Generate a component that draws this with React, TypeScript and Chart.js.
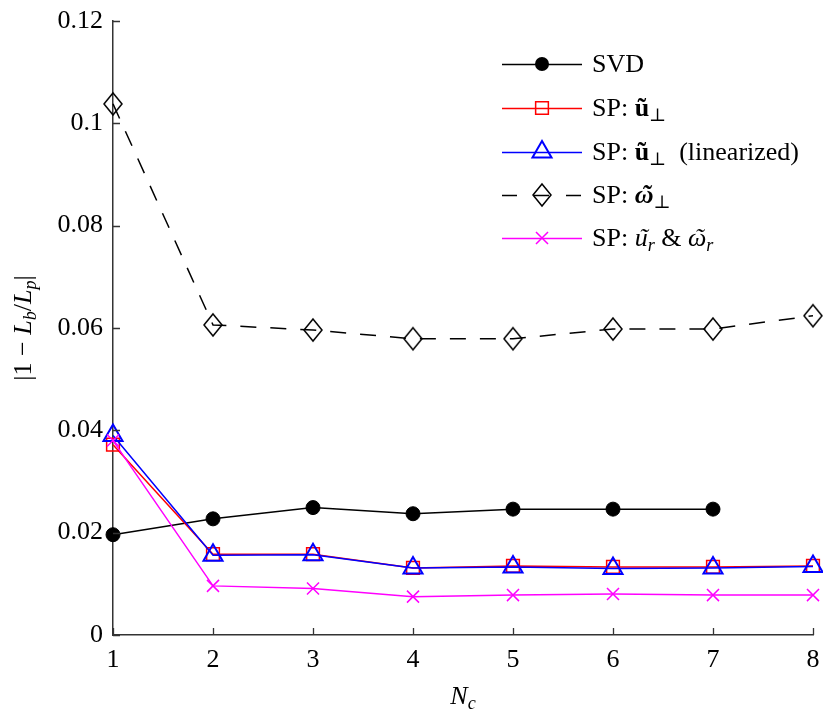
import { useEffect, useRef } from "react";
import { Chart, registerables } from "chart.js";

Chart.register(...registerables);

// Number of components N_c
const nc = [1, 2, 3, 4, 5, 6, 7, 8];
// |1 - L_b/L_p| for each method
const svd = [0.0196, 0.0227, 0.0249, 0.0237, 0.0246, 0.0246, 0.0246];
const spU = [0.0372, 0.0158, 0.0158, 0.0131, 0.0135, 0.0133, 0.0133, 0.0135];
const spULin = [0.039, 0.0156, 0.0157, 0.0131, 0.0133, 0.013, 0.0131, 0.0134];
const spOmega = [0.1038, 0.0606, 0.0596, 0.0579, 0.0579, 0.0598, 0.0598, 0.0624];
const spRadial = [0.038, 0.0096, 0.0091, 0.0075, 0.0078, 0.008, 0.0078, 0.0078];

const xTicks = [1, 2, 3, 4, 5, 6, 7, 8];
const yTicks = [0, 0.02, 0.04, 0.06, 0.08, 0.1, 0.12];

const FAMILY = "'Liberation Serif', 'DejaVu Serif', serif";
const SIZE = 26;

type Seg = { t: string; s?: "n" | "i" | "b" | "bi"; sub?: boolean; tilde?: boolean };

const legendLabels: Seg[][] = [
  [{ t: "SVD" }],
  [{ t: "SP: " }, { t: "u", s: "b", tilde: true }, { t: "\u22A5", sub: true }],
  [
    { t: "SP: " },
    { t: "u", s: "b", tilde: true },
    { t: "\u22A5", sub: true },
    { t: "  (linearized)" },
  ],
  [{ t: "SP: " }, { t: "\u03C9", s: "bi", tilde: true }, { t: "\u22A5", sub: true }],
  [
    { t: "SP: " },
    { t: "u", s: "i", tilde: true },
    { t: "r", s: "i", sub: true },
    { t: " & " },
    { t: "\u03C9", s: "i", tilde: true },
    { t: "r", s: "i", sub: true },
  ],
];

const yTitle: Seg[] = [
  { t: "|1 \u2212 " },
  { t: "L", s: "i" },
  { t: "b", s: "i", sub: true },
  { t: "/" },
  { t: "L", s: "i" },
  { t: "p", s: "i", sub: true },
  { t: "|" },
];

const xTitle: Seg[] = [{ t: "N", s: "i" }, { t: "c", s: "i", sub: true }];

function fontOf(s: Seg["s"], size: number) {
  const pre = s === "i" ? "italic " : s === "b" ? "bold " : s === "bi" ? "italic bold " : "";
  return `${pre}${size}px ${FAMILY}`;
}

function measureRich(ctx: CanvasRenderingContext2D, segs: Seg[], size: number) {
  let w = 0;
  for (const g of segs) {
    ctx.font = fontOf(g.s, g.sub ? size * 0.7 : size);
    w += ctx.measureText(g.t).width;
  }
  return w;
}

function drawRich(ctx: CanvasRenderingContext2D, segs: Seg[], x: number, y: number, size: number) {
  let cx = x;
  ctx.textAlign = "left";
  ctx.textBaseline = "alphabetic";
  for (const g of segs) {
    const sz = g.sub ? size * 0.7 : size;
    ctx.font = fontOf(g.s, sz);
    const dy = g.sub ? size * 0.2 : 0;
    ctx.fillText(g.t, cx, y + dy);
    const w = ctx.measureText(g.t).width;
    if (g.tilde) {
      const slant = g.s === "i" || g.s === "bi" ? size * 0.08 : 0;
      ctx.textAlign = "center";
      ctx.fillText("\u02DC", cx + w / 2 + slant, y + dy);
      ctx.textAlign = "left";
    }
    cx += w;
  }
}

function makeDiamond(color: string) {
  const c = document.createElement("canvas");
  c.width = 22;
  c.height = 26;
  const g = c.getContext("2d")!;
  g.strokeStyle = color;
  g.lineWidth = 1.5;
  g.beginPath();
  g.moveTo(11, 2);
  g.lineTo(20, 13);
  g.lineTo(11, 24);
  g.lineTo(2, 13);
  g.closePath();
  g.stroke();
  return c;
}

type Marker = {
  style: string;
  radius: number;
  color: string;
  fill: boolean;
  width: number;
};

function drawMarker(ctx: CanvasRenderingContext2D, m: Marker, x: number, y: number, diamond: HTMLCanvasElement) {
  ctx.save();
  ctx.setLineDash([]);
  ctx.strokeStyle = m.color;
  ctx.fillStyle = m.color;
  ctx.lineWidth = m.width;
  const r = m.radius;
  ctx.beginPath();
  if (m.style === "circle") {
    ctx.arc(x, y, r, 0, Math.PI * 2);
    ctx.fill();
  } else if (m.style === "rect") {
    const s = r * Math.SQRT1_2;
    ctx.rect(x - s, y - s, 2 * s, 2 * s);
    ctx.stroke();
  } else if (m.style === "triangle") {
    let a = 0;
    ctx.moveTo(x + Math.sin(a) * r, y - Math.cos(a) * r);
    a += (2 * Math.PI) / 3;
    ctx.lineTo(x + Math.sin(a) * r, y - Math.cos(a) * r);
    a += (2 * Math.PI) / 3;
    ctx.lineTo(x + Math.sin(a) * r, y - Math.cos(a) * r);
    ctx.closePath();
    ctx.stroke();
  } else if (m.style === "diamond") {
    ctx.drawImage(diamond, x - diamond.width / 2, y - diamond.height / 2);
  } else if (m.style === "crossRot") {
    const o = r * Math.SQRT1_2;
    ctx.moveTo(x - o, y - o);
    ctx.lineTo(x + o, y + o);
    ctx.moveTo(x - o, y + o);
    ctx.lineTo(x + o, y - o);
    ctx.stroke();
  }
  ctx.restore();
}

// scales keep a fixed footprint so the plot area lands where intended
function noScalePadding(s: any) {
  s.paddingLeft = 0;
  s.paddingRight = 0;
  s.paddingTop = 0;
  s.paddingBottom = 0;
}

export default function App() {
  const ref = useRef<HTMLCanvasElement | null>(null);

  useEffect(() => {
    const canvas = ref.current;
    if (!canvas) return;
    const diamond = makeDiamond("#000000");

    const series = [
      { label: "SVD", values: svd, color: "#000000", dash: [] as number[], m: { style: "circle", radius: 7, color: "#000000", fill: true, width: 1 } },
      { label: "SP u", values: spU, color: "#ff0000", dash: [], m: { style: "rect", radius: 9, color: "#ff0000", fill: false, width: 1.5 } },
      { label: "SP u lin", values: spULin, color: "#0000ff", dash: [], m: { style: "triangle", radius: 11, color: "#0000ff", fill: false, width: 2 } },
      { label: "SP omega", values: spOmega, color: "#000000", dash: [16, 14], m: { style: "diamond", radius: 11, color: "#000000", fill: false, width: 1.5 } },
      { label: "SP radial", values: spRadial, color: "#ff00ff", dash: [], m: { style: "crossRot", radius: 8.5, color: "#ff00ff", fill: false, width: 1.5 } },
    ];

    const overlay = {
      id: "overlay",
      afterDraw(chart: any) {
        const ctx: CanvasRenderingContext2D = chart.ctx;
        const xs = chart.scales.x;
        const ys = chart.scales.y;
        const { left, bottom } = chart.chartArea;
        ctx.save();
        // inward tick marks
        ctx.strokeStyle = "#333333";
        ctx.lineWidth = 1.3;
        ctx.beginPath();
        for (const v of xTicks) {
          const px = Math.round(xs.getPixelForValue(v)) + 0.5;
          ctx.moveTo(px, bottom);
          ctx.lineTo(px, bottom - 7);
        }
        for (const v of yTicks) {
          const py = Math.round(ys.getPixelForValue(v)) + 0.5;
          ctx.moveTo(left, py);
          ctx.lineTo(left + 7, py);
        }
        ctx.stroke();

        ctx.fillStyle = "#000000";
        // axis titles
        const wx = measureRich(ctx, xTitle, SIZE);
        drawRich(ctx, xTitle, (xs.left + xs.right) / 2 - wx / 2, 704, SIZE);
        const wy = measureRich(ctx, yTitle, SIZE);
        ctx.save();
        ctx.translate(31, (ys.top + ys.bottom) / 2);
        ctx.rotate(-Math.PI / 2);
        drawRich(ctx, yTitle, -wy / 2, 0, SIZE);
        ctx.restore();

        // legend
        const rows = [64, 108, 152, 195, 238];
        series.forEach((s, i) => {
          const y = rows[i];
          ctx.save();
          ctx.strokeStyle = s.color;
          ctx.lineWidth = 1.5;
          ctx.setLineDash(s.dash.length ? [15, 17] : []);
          ctx.beginPath();
          ctx.moveTo(502, y + 0.5);
          ctx.lineTo(582, y + 0.5);
          ctx.stroke();
          ctx.restore();
          drawMarker(ctx, s.m as Marker, 542, y, diamond);
          ctx.fillStyle = "#000000";
          drawRich(ctx, legendLabels[i], 592, y + 8, SIZE);
        });
        ctx.restore();
      },
    };

    const chart = new Chart(canvas, {
      type: "line",
      data: {
        datasets: series.map((s, i) => ({
          label: s.label,
          data: s.values.map((y, k) => ({ x: nc[k], y })),
          borderColor: s.color,
          backgroundColor: s.color,
          borderWidth: 1.5,
          borderDash: s.dash,
          pointStyle: s.m.style === "diamond" ? diamond : s.m.style,
          pointRadius: s.m.radius,
          pointHoverRadius: s.m.radius,
          pointBorderWidth: s.m.width,
          pointBorderColor: s.color,
          pointBackgroundColor: s.m.fill ? s.color : "rgba(0,0,0,0)",
          tension: 0,
          fill: false,
          clip: false,
          order: series.length - i,
        })) as any,
      },
      options: {
        animation: false,
        responsive: false,
        events: [],
        layout: { autoPadding: false, padding: { top: 21, right: 10, left: 0, bottom: 0 } },
        plugins: { legend: { display: false }, tooltip: { enabled: false } },
        scales: {
          x: {
            type: "linear",
            min: 1,
            max: 8,
            afterBuildTicks: (s: any) => {
              s.ticks = xTicks.map((v) => ({ value: v }));
            },
            afterFit: (s: any) => {
              s.height = 80;
              noScalePadding(s);
            },
            grid: { display: false, drawTicks: false },
            border: { display: true, color: "#333333", width: 1.5 },
            ticks: {
              color: "#000000",
              padding: 10,
              maxRotation: 0,
              font: { family: FAMILY, size: SIZE },
              callback: (v: any) => String(v),
            },
          },
          y: {
            type: "linear",
            min: 0,
            max: 0.12,
            afterBuildTicks: (s: any) => {
              s.ticks = yTicks.map((v) => ({ value: v }));
            },
            afterFit: (s: any) => {
              s.width = 113;
              noScalePadding(s);
            },
            grid: { display: false, drawTicks: false },
            border: { display: true, color: "#333333", width: 1.5 },
            ticks: {
              color: "#000000",
              padding: 10,
              font: { family: FAMILY, size: SIZE },
              callback: (v: any) => String(Number(Number(v).toFixed(2))),
            },
          },
        },
      },
      plugins: [overlay],
    });

    return () => chart.destroy();
  }, []);

  return (
    <div style={{ position: "fixed", left: 0, top: 0, width: 823, height: 715, background: "#ffffff" }}>
      <canvas ref={ref} width={823} height={715} style={{ display: "block" }} />
    </div>
  );
}
